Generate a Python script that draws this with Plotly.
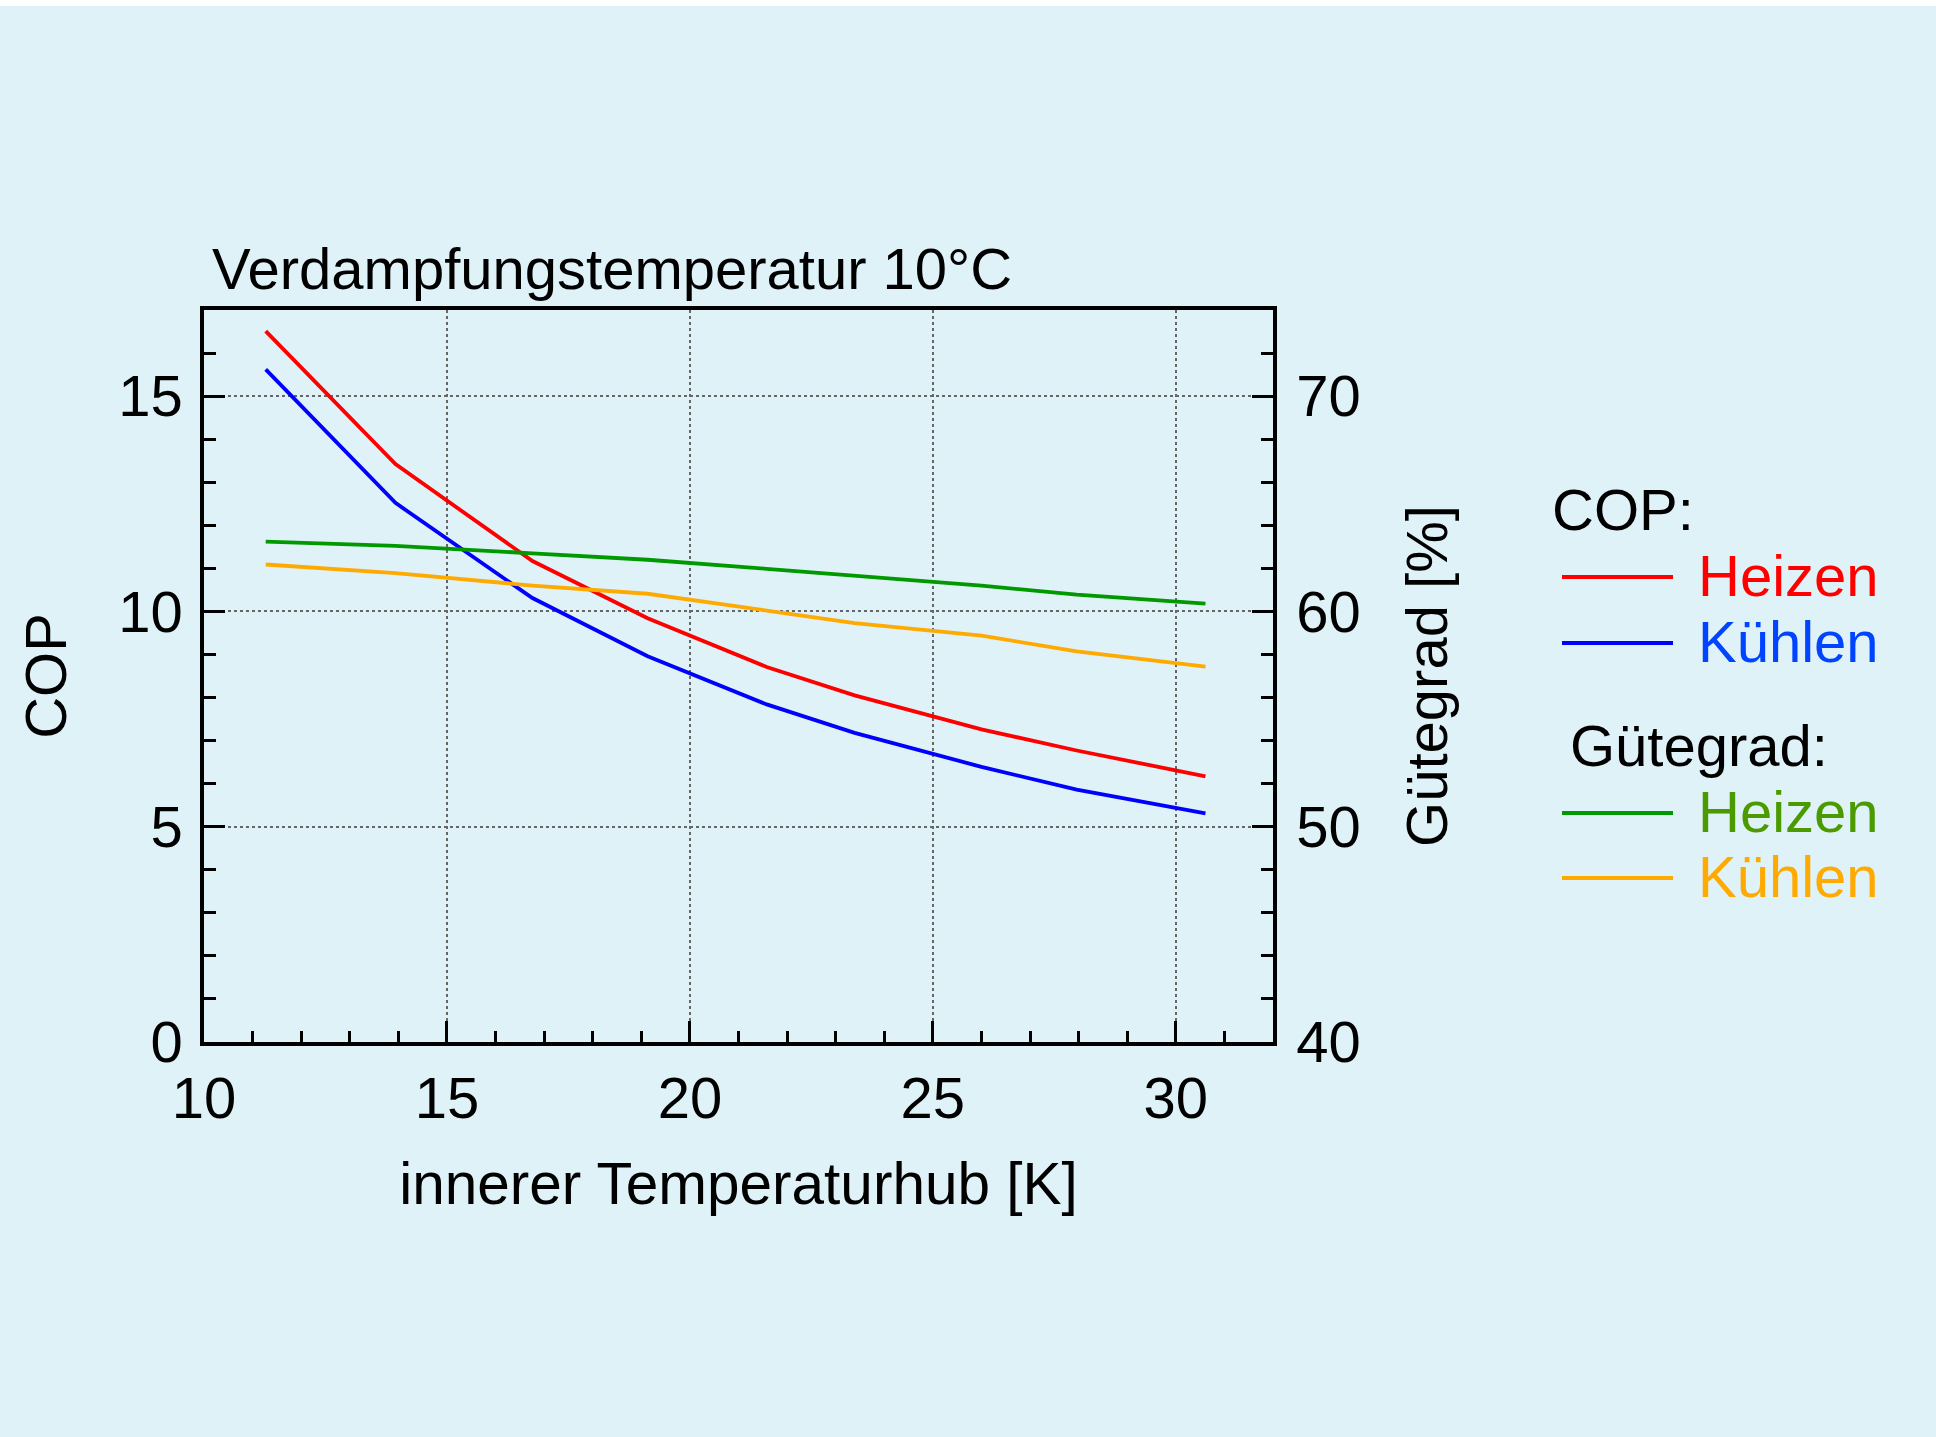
import plotly.graph_objects as go

# ---------------- data ----------------
temperaturhub = [11.27, 13.94, 16.76, 19.13, 21.58, 23.39, 26.0, 27.96, 30.61]
cop_heizen = [16.51, 13.42, 11.17, 9.84, 8.71, 8.05, 7.26, 6.77, 6.17]
cop_kuehlen = [15.62, 12.52, 10.31, 8.96, 7.84, 7.18, 6.39, 5.86, 5.31]
guete_heizen = [63.24, 63.04, 62.70, 62.40, 61.98, 61.66, 61.20, 60.78, 60.36]
guete_kuehlen = [62.18, 61.78, 61.20, 60.82, 60.04, 59.46, 58.88, 58.14, 57.44]

x_ticks = [10, 15, 20, 25, 30]
y_ticks = [0, 5, 10, 15]
y2_ticks = [40, 50, 60, 70]

title_text = "Verdampfungstemperatur 10°C"
x_title = "innerer Temperaturhub [K]"
y_title = "COP"
y2_title = "Gütegrad [%]"

# ---------------- style ----------------
W, H = 1936, 1437
L, R, T, B = 204, 1273, 310, 1042  # plot area in pixels
BG = "#dff2f8"
FONT = "Liberation Sans, Arial, sans-serif"
FS = 58

RED, BLUE, GREEN, ORANGE = "#ff0000", "#0000ff", "#009a00", "#ffaa00"
BLUE_TXT, GREEN_TXT = "#0044ff", "#4a9a00"
LW = 3.8


def px(xp):
    return (xp - L) / (R - L)


def py(yp):
    return (B - yp) / (B - T)


fig = go.Figure()
fig.add_trace(go.Scatter(x=temperaturhub, y=cop_heizen, mode="lines",
                         line=dict(color=RED, width=LW), name="COP Heizen", yaxis="y"))
fig.add_trace(go.Scatter(x=temperaturhub, y=cop_kuehlen, mode="lines",
                         line=dict(color=BLUE, width=LW), name="COP Kühlen", yaxis="y"))
fig.add_trace(go.Scatter(x=temperaturhub, y=guete_heizen, mode="lines",
                         line=dict(color=GREEN, width=LW), name="Gütegrad Heizen", yaxis="y2"))
fig.add_trace(go.Scatter(x=temperaturhub, y=guete_kuehlen, mode="lines",
                         line=dict(color=ORANGE, width=LW), name="Gütegrad Kühlen", yaxis="y2"))

tickfont = dict(family=FONT, size=FS, color="black")
grid = dict(showgrid=True, gridcolor="#666666", gridwidth=1.6, griddash="dot")
AXW, TKW = 3.5, 3

fig.update_layout(
    width=W, height=H,
    paper_bgcolor=BG, plot_bgcolor=BG,
    margin=dict(l=L, r=W - R, t=T, b=H - B, autoexpand=False),
    showlegend=False,
    font=dict(family=FONT, size=FS, color="black"),
    title=dict(text=title_text, x=212 / W, xanchor="left", xref="container",
               y=1 - 269 / H, yanchor="middle", yref="container",
               font=dict(family=FONT, size=FS, color="black")),
    xaxis=dict(range=[10, 32], tickvals=x_ticks, ticks="inside", ticklen=21, tickwidth=TKW,
               tickcolor="black", showline=True, linewidth=AXW, linecolor="black", mirror=True,
               zeroline=False, tickfont=tickfont, ticklabelstandoff=3,
               minor=dict(dtick=1, tick0=10, ticks="inside", ticklen=11, tickwidth=TKW,
                          tickcolor="black", showgrid=False),
               title=dict(text=x_title, font=dict(family=FONT, size=FS + 0.5), standoff=35),
               **grid),
    yaxis=dict(range=[0, 17], tickvals=y_ticks, ticks="inside", ticklen=21, tickwidth=TKW,
               tickcolor="black", showline=True, linewidth=AXW, linecolor="black", mirror=False,
               zeroline=False, tickfont=tickfont, ticklabelstandoff=6,
               minor=dict(dtick=1, tick0=0, ticks="inside", ticklen=12, tickwidth=TKW,
                          tickcolor="black", showgrid=False),
               title=dict(text=y_title, font=dict(family=FONT, size=FS), standoff=34),
               **grid),
    yaxis2=dict(range=[40, 74], tickvals=y2_ticks, ticks="inside", ticklen=21, tickwidth=TKW,
                tickcolor="black", showline=True, linewidth=AXW, linecolor="black",
                overlaying="y", side="right", showgrid=False, zeroline=False,
                tickfont=tickfont, ticklabelstandoff=8,
                minor=dict(dtick=2, tick0=40, ticks="inside", ticklen=12, tickwidth=TKW,
                           tickcolor="black", showgrid=False),
                title=dict(text=y2_title, font=dict(family=FONT, size=FS), standoff=48)),
)

# thin white strip at the very top of the picture
fig.add_shape(type="rect", xref="paper", yref="paper", x0=px(0), x1=px(W), y0=py(6), y1=py(-2),
              fillcolor="white", line=dict(width=0), layer="above")

# ---------------- legend (drawn manually) ----------------
legend_rows = [
    ("COP:", None, "black", 1550, 509),
    ("Heizen", RED, RED, 1696, 575),
    ("Kühlen", BLUE, BLUE_TXT, 1696, 641),
    ("Gütegrad:", None, "black", 1568, 745),
    ("Heizen", GREEN, GREEN_TXT, 1696, 811),
    ("Kühlen", ORANGE, ORANGE, 1696, 876),
]
for text, lcol, tcol, xl, yc in legend_rows:
    fig.add_annotation(text=text, xref="paper", yref="paper", x=px(xl), y=py(yc),
                       xanchor="left", yanchor="middle", showarrow=False,
                       font=dict(family=FONT, size=FS, color=tcol))
    if lcol:
        fig.add_shape(type="line", xref="paper", yref="paper", x0=px(1562), x1=px(1673),
                      y0=py(yc + 2), y1=py(yc + 2), line=dict(color=lcol, width=4))

fig.write_html("out.html")
